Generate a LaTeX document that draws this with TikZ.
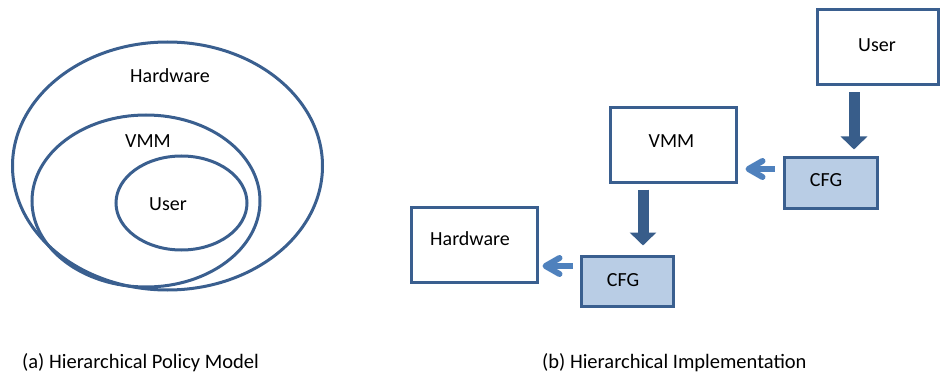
\documentclass[tikz,border=0pt]{standalone}
\usepackage{fontspec}
\setmainfont{Carlito}
\usetikzlibrary{arrows.meta,calc}
\definecolor{edge}{HTML}{3A5F8F}
\definecolor{darkarrow}{HTML}{385D8A}
\definecolor{lightarrow}{HTML}{4F81BD}
\definecolor{cfgfill}{HTML}{B9CDE5}
\tikzset{
  ring/.style={draw=edge, line width=3pt},
  box/.style={draw=edge, line width=3pt, fill=white, inner sep=0pt},
  cfgbox/.style={box, fill=cfgfill},
  lbl/.style={font=\fontsize{20}{24}\selectfont, anchor=base, inner sep=0pt},
  caption/.style={font=\fontsize{20.5}{25}\selectfont, anchor=base west, inner sep=0pt},
  bigarrow/.style={draw=darkarrow, line width=11pt,
    -{Triangle[width=26pt,length=13pt]}},
  smallarrow/.style={draw=lightarrow, line width=6pt,
    -{Straight Barb[width=16pt,length=14pt,round]}},
}
\begin{document}
\begin{tikzpicture}[x=1pt,y=-1pt]
\useasboundingbox (0,0) rectangle (940,377);

% (a) nested policy domains
\draw[ring] (167.5,166) ellipse [x radius=155, y radius=124];
\draw[ring] (146,201) ellipse [x radius=114, y radius=86];
\draw[ring] (181.5,203) ellipse [x radius=65.5, y radius=47];
\node[lbl] (hwA) at (170,83) {Hardware};
\node[lbl] (vmmA) at (148,148) {VMM};
\node[lbl] (userA) at (168,210) {User};

% (b) layered implementation
\node[box, minimum width=121pt, minimum height=75pt] (user) at (877.5,47.5) {};
\node[box, minimum width=126pt, minimum height=74.5pt] (vmm) at (673,145.25) {};
\node[box, minimum width=126pt, minimum height=75pt] (hw) at (474,244.5) {};
\node[cfgbox, minimum width=93pt, minimum height=50pt] (cfg1) at (830.5,183) {};
\node[cfgbox, minimum width=92pt, minimum height=50pt] (cfg2) at (627,281) {};

\node[lbl] (userT) at (877,52) {User};
\node[lbl] (vmmT) at (671.5,148) {VMM};
\node[lbl] (hwT) at (470,245) {Hardware};
\node[lbl] (cfg1T) at (826,186) {CFG};
\node[lbl] (cfg2T) at (623,286) {CFG};

\draw[bigarrow] ([xshift=-23.5pt,yshift=-6pt]user.south) -- ([xshift=23.5pt,yshift=7pt]cfg1.north);
\draw[bigarrow] ([xshift=-30pt,yshift=-5.5pt]vmm.south) -- ([xshift=16pt,yshift=9pt]cfg2.north);

\coordinate (s1) at ([xshift=-8pt,yshift=14pt]cfg1.west);
\draw[smallarrow, shorten >=8pt] (s1) -- (s1 -| vmm.east);
\coordinate (s2) at ([xshift=-7pt,yshift=15pt]cfg2.west);
\draw[smallarrow, shorten >=4pt] (s2) -- (s2 -| hw.east);

% captions
\node[caption] (capA) at (22,368) {(a) Hierarchical Policy Model};
\node[caption] (capB) at (542,368) {(b) Hierarchical Implementation};
\end{tikzpicture}
\end{document}
